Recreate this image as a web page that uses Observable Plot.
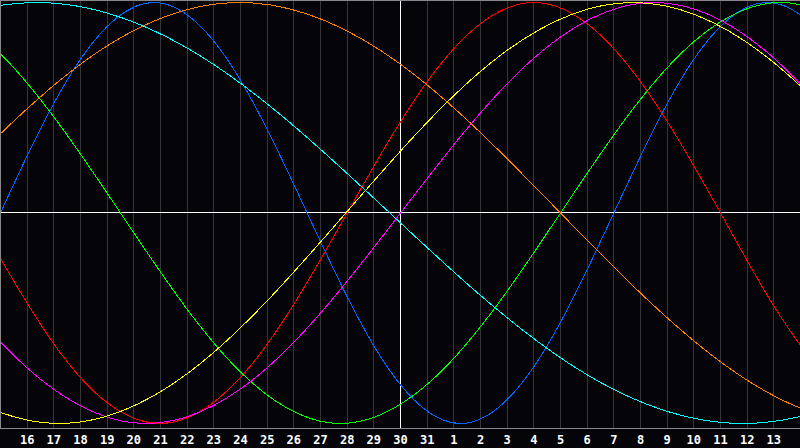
<!DOCTYPE html>
<html><head><meta charset="utf-8">
<script src="https://cdn.jsdelivr.net/npm/d3@7"></script>
<script src="https://cdn.jsdelivr.net/npm/@observablehq/plot@0.6"></script>
<style>html,body{margin:0;padding:0;background:#050509;} svg{display:block}</style>
</head><body><div id="chart"></div>
<script>
// Day labels for grid positions 1..29 (position 0 = day 15, position 15 = today, day 30)
const dayLabels = ["16","17","18","19","20","21","22","23","24","25","26","27","28","29","30","31",
  "1","2","3","4","5","6","7","8","9","10","11","12","13"];
const todayIndex = 15;

const seriesNames  = ["Physical","Emotional","Intellectual","Intuitive","Aesthetic","Awareness","Spiritual"];
const seriesColors = ["#0066ff","#ff0000","#00ff00","#ff00ff","#ffff00","#ff8000","#00ffff"];

// key points (day position, value -1..1)
const physicalDays  = [-5.75,-2.875,0,2.875,5.75,8.625,11.5,14.375,17.25,20.125,23,25.875,28.75,31.625,34.5];
const physicalVals  = [-1,-0.707,0,0.707,1,0.707,0,-0.707,-1,-0.707,0,0.707,1,0.707,0];
const emotionalDays = [-4.5,-1,2.5,6,9.5,13,16.5,20,23.5,27,30.5,34];
const emotionalVals = [0.707,0,-0.707,-1,-0.707,0,0.707,1,0.707,0,-0.707,-1];
const intellectDays = [-7.875,-3.75,0.375,4.5,8.625,12.75,16.875,21,25.125,29.25,33.375,37.5];
const intellectVals = [0.707,1,0.707,0,-0.707,-1,-0.707,0,0.707,1,0.707,0];
const intuitiveDays = [-8.75,-4,0.75,5.5,10.25,15,19.75,24.5,29.25,34,38.75];
const intuitiveVals = [0.707,0,-0.707,-1,-0.707,0,0.707,1,0.707,0,-0.707];
const aestheticDays = [-8.55,-3.175,2.2,7.575,12.95,18.325,23.7,29.075,34.45,39.825];
const aestheticVals = [0,-0.707,-1,-0.707,0,0.707,1,0.707,0,-0.707];
const awarenessDays = [-9,-3,3,9,15,21,27,33,39];
const awarenessVals = [-0.707,0,0.707,1,0.707,0,-0.707,-1,-0.707];
const spiritualDays = [-11.9,-5.275,1.35,7.975,14.6,21.225,27.85,34.475,41.1];
const spiritualVals = [0,0.707,1,0.707,0,-0.707,-1,-0.707,0];

const seriesDays = [physicalDays,emotionalDays,intellectDays,intuitiveDays,aestheticDays,awarenessDays,spiritualDays];
const seriesVals = [physicalVals,emotionalVals,intellectVals,intuitiveVals,aestheticVals,awarenessVals,spiritualVals];

const points = [];
seriesNames.forEach((name, s) => {
  seriesDays[s].forEach((d, i) => points.push({name, day: d, value: seriesVals[s][i]}));
});

const tickIdx = dayLabels.map((_, i) => i + 1);
const gridIdx = tickIdx.filter(i => i !== todayIndex);

const chart = Plot.plot({
  width: 800, height: 448,
  marginTop: 0, marginBottom: 20, marginLeft: 0, marginRight: 0,
  style: {background: "#050509", color: "#ffffff", fontFamily: "'DejaVu Sans Mono', monospace", fontSize: "12px", fontWeight: "bold"},
  x: {domain: [0, 30], ticks: tickIdx, tickFormat: i => dayLabels[i - 1], tickSize: 0, tickPadding: 7, label: null},
  y: {domain: [-1.0238, 1.0095], axis: null},
  color: {domain: seriesNames, range: seriesColors},
  marks: [
    Plot.ruleX(gridIdx, {stroke: "#363636", shapeRendering: "crispEdges"}),
    Plot.ruleY([0], {stroke: "#ffffff", shapeRendering: "crispEdges"}),
    Plot.ruleX([todayIndex], {stroke: "#ffffff", shapeRendering: "crispEdges"}),
    Plot.line(points, {x: "day", y: "value", z: "name", stroke: "name", curve: "natural", clip: true, strokeWidth: 1, shapeRendering: "crispEdges"}),
    Plot.frame({anchor: "top", stroke: "#888888", shapeRendering: "crispEdges"}),
    Plot.frame({anchor: "left", stroke: "#888888", shapeRendering: "crispEdges"}),
    Plot.frame({anchor: "bottom", stroke: "#888888", shapeRendering: "crispEdges"})
  ]
});
document.getElementById("chart").append(chart);
</script>
</body></html>
